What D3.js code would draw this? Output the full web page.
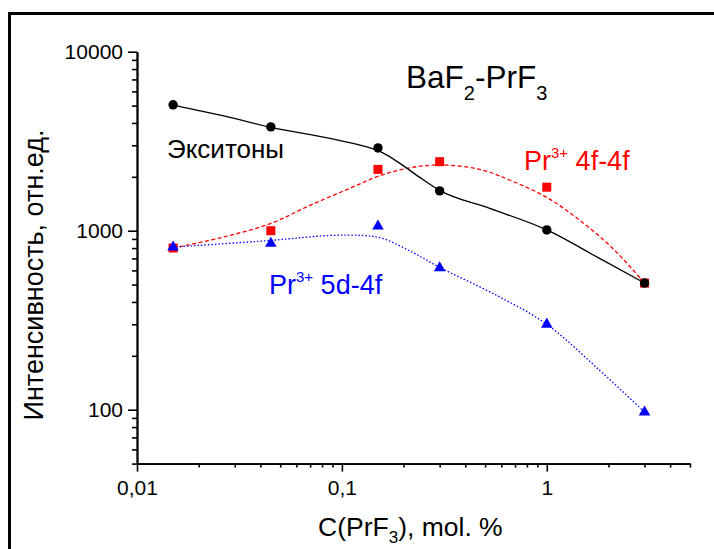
<!DOCTYPE html>
<html>
<head>
<meta charset="utf-8">
<script src="https://cdn.jsdelivr.net/npm/d3@7"></script>
<style>
  body { margin: 0; background: #fff; }
  svg { display: block; font-family: "Liberation Sans", Arial, sans-serif; }
</style>
</head>
<body>
<svg width="714" height="549"></svg>
<script>
// concentrations, mol. %
const conc = [0.015, 0.045, 0.15, 0.3, 1, 3];

// measured intensities
const excitons = [5050, 3800, 2900, 1670, 1010, 510];
const pr4f = [800, 1000, 2200, 2430, 1750, 510];
const pr5d = [810, 850, 1060, 620, 300, 97];

// smoothed curves as drawn on the original
const excitonCurve = [
  [0.015, 5030], [0.0284, 4295], [0.045, 3776], [0.0874, 3278], [0.1295, 2958],
  [0.1585, 2720], [0.192, 2377], [0.24, 1985], [0.3, 1679], [0.527, 1332],
  [1, 1010], [1.81, 700], [3, 510]
];
const pr4fCurve = [
  [0.015, 800], [0.0254, 912], [0.045, 1098], [0.0698, 1385], [0.109, 1723],
  [0.15, 2011], [0.207, 2229], [0.3, 2331], [0.471, 2200], [0.683, 1886],
  [1, 1535], [1.45, 1142], [2.1, 796], [3, 510]
];
const pr5dCurve = [
  [0.015, 810], [0.045, 883], [0.087, 940], [0.127, 940], [0.158, 905],
  [0.222, 756], [0.3, 624], [0.57, 435], [1, 300], [1.75, 172], [3, 97]
];

const xMajor = [0.01, 0.1, 1];
const xLabels = ["0,01", "0,1", "1"];
const yMajor = [100, 1000, 10000];

const svg = d3.select("svg");
const font = "Liberation Sans, Arial, sans-serif";

// outer frame
svg.append("rect")
  .attr("x", 9.5).attr("y", 13.5)
  .attr("width", 710).attr("height", 545)
  .attr("fill", "none").attr("stroke", "#000").attr("stroke-width", 3);

const x = d3.scaleLog().domain([0.01, 5]).range([137, 690]);
const y = d3.scaleLog().domain([50, 10000]).range([463.6, 51.7]);

// minor ticks 2..9 of each decade
const xMinor = [];
[0.01, 0.1, 1].forEach(d => { for (let k = 2; k <= 9; k++) if (d * k <= 5.0001) xMinor.push(d * k); });
const yMinor = [];
[10, 100, 1000].forEach(d => { for (let k = 2; k <= 9; k++) if (d * k >= 49.9) yMinor.push(d * k); });

function styleAxis(g) {
  g.select(".domain").attr("stroke", "#000").attr("stroke-width", 1.8);
  g.selectAll(".tick line").attr("stroke", "#000").attr("stroke-width", 1.6);
  g.selectAll("text").attr("font-family", font).attr("font-size", 21).attr("fill", "#000");
}

svg.append("g")
  .attr("transform", "translate(0,463.6)")
  .call(d3.axisBottom(x).tickValues(xMinor).tickSize(4).tickFormat("").tickSizeOuter(0))
  .call(styleAxis);
svg.append("g")
  .attr("transform", "translate(0,463.6)")
  .call(d3.axisBottom(x).tickValues(xMajor).tickSize(8).tickPadding(8)
    .tickFormat((d, i) => xLabels[i]).tickSizeOuter(0))
  .call(styleAxis);

svg.append("g")
  .attr("transform", "translate(137,0)")
  .call(d3.axisLeft(y).tickValues(yMinor).tickSize(5).tickFormat("").tickSizeOuter(0))
  .call(styleAxis);
svg.append("g")
  .attr("transform", "translate(137,0)")
  .call(d3.axisLeft(y).tickValues(yMajor).tickSize(9).tickPadding(5)
    .tickFormat(d3.format("d")).tickSizeOuter(0))
  .call(styleAxis);

// curves
const lineSmooth = d3.line()
  .x(d => x(d[0])).y(d => y(d[1]))
  .curve(d3.curveCatmullRom.alpha(0.5));
const lineMono = d3.line()
  .x(d => x(d[0])).y(d => y(d[1]))
  .curve(d3.curveMonotoneX);

svg.append("path").datum(pr4fCurve).attr("d", lineSmooth)
  .attr("fill", "none").attr("stroke", "#f00").attr("stroke-width", 1.3)
  .attr("stroke-dasharray", "4,2.5");
svg.append("path").datum(pr5dCurve).attr("d", lineSmooth)
  .attr("fill", "none").attr("stroke", "#00f").attr("stroke-width", 1.3)
  .attr("stroke-dasharray", "1.5,2");
svg.append("path").datum(excitonCurve).attr("d", lineMono)
  .attr("fill", "none").attr("stroke", "#000").attr("stroke-width", 1.3);

// markers
svg.selectAll(".sq").data(pr4f).join("rect")
  .attr("class", "sq")
  .attr("x", (d, i) => x(conc[i]) - 4.5).attr("y", d => y(d) - 4.5)
  .attr("width", 9).attr("height", 9).attr("fill", "#f00");

const tri = d3.symbol().type(d3.symbolTriangle).size(58);
svg.selectAll(".tri").data(pr5d).join("path")
  .attr("class", "tri")
  .attr("transform", (d, i) => `translate(${x(conc[i])},${y(d)})`)
  .attr("d", tri).attr("fill", "#00f");

svg.selectAll(".dot").data(excitons).join("circle")
  .attr("class", "dot")
  .attr("cx", (d, i) => x(conc[i])).attr("cy", d => y(d))
  .attr("r", 4.7).attr("fill", "#000");

// labels
function addText(px, py, color, size, parts) {
  const t = svg.append("text").attr("x", px).attr("y", py)
    .attr("font-family", font).attr("font-size", size).attr("fill", color);
  parts.forEach(p => {
    const s = t.append("tspan").text(p.t);
    if (p.size) s.attr("font-size", p.size);
    if (p.dy) s.attr("dy", p.dy);
  });
  return t;
}

addText(406, 88, "#000", 31.5, [
  { t: "BaF" }, { t: "2", size: 20, dy: 12 }, { t: "-PrF", dy: -12 }, { t: "3", size: 20, dy: 12 }
]);
addText(167, 158, "#000", 26, [{ t: "Экситоны" }]);
addText(524, 170, "#f00", 27, [
  { t: "Pr" }, { t: "3+", size: 15, dy: -12 }, { t: " 4f-4f", dy: 12 }
]);
addText(269, 294, "#00f", 27, [
  { t: "Pr" }, { t: "3+", size: 15, dy: -12 }, { t: " 5d-4f", dy: 12 }
]);

// axis titles
addText(318, 536, "#000", 26.5, [
  { t: "C(PrF" }, { t: "3", size: 17, dy: 7 }, { t: "), mol. %", dy: -7 }
]);

svg.append("text")
  .attr("transform", "translate(43,275) rotate(-90)")
  .attr("text-anchor", "middle")
  .attr("font-family", font).attr("font-size", 27).attr("fill", "#000")
  .text("Интенсивность, отн.ед.");
</script>
</body>
</html>
